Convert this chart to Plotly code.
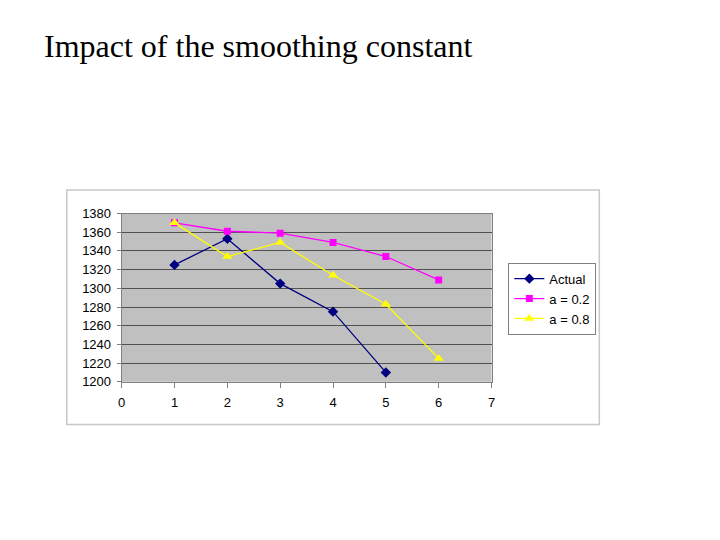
import plotly.graph_objects as go

periods_actual = [1, 2, 3, 4, 5]
actual = [1325, 1353, 1305, 1275, 1210]
periods_fc = [1, 2, 3, 4, 5, 6]
a02 = [1370, 1361, 1359, 1349, 1334, 1309]
a08 = [1370, 1334, 1349, 1314, 1283, 1225]
names = ["Actual", "a = 0.2", "a = 0.8"]

W, H = 720, 540
def px(x): return x / W
def py(y): return 1 - y / H

fig = go.Figure()
fig.add_trace(go.Scatter(x=periods_actual, y=actual, name=names[0], mode="lines+markers",
                         line=dict(color="#000080", width=1.3),
                         marker=dict(symbol="diamond", size=8, color="#000080")))
fig.add_trace(go.Scatter(x=periods_fc, y=a02, name=names[1], mode="lines+markers",
                         line=dict(color="#FF00FF", width=1.3),
                         marker=dict(symbol="square", size=7, color="#FF00FF")))
fig.add_trace(go.Scatter(x=periods_fc, y=a08, name=names[2], mode="lines+markers",
                         line=dict(color="#FFFF00", width=1.3),
                         marker=dict(symbol="triangle-up", size=9, color="#FFFF00")))

fig.update_layout(
    width=W, height=H,
    margin=dict(l=0, r=0, t=0, b=0),
    paper_bgcolor="white",
    plot_bgcolor="#C0C0C0",
    font=dict(family="Liberation Sans, Arial", size=13, color="black"),
    showlegend=True,
    legend=dict(x=px(510), y=py(263), xanchor="left", yanchor="top",
                bgcolor="white", bordercolor="#808080", borderwidth=1,
                font=dict(size=13), tracegroupgap=0, itemwidth=30),
    xaxis=dict(domain=[px(119), px(493)], range=[0, 7], dtick=1,
               showgrid=False, zeroline=False,
               showline=True, linecolor="#808080", linewidth=1, mirror=True,
               ticks="outside", ticklen=5, tickcolor="#808080",
               ticklabelstandoff=4),
    yaxis=dict(domain=[py(385.5), py(212.4)], range=[1200, 1380], dtick=20,
               showgrid=True, gridcolor="#505050", gridwidth=1, zeroline=False,
               showline=True, linecolor="#808080", linewidth=1, mirror=True,
               ticks="outside", ticklen=4, tickcolor="#808080",
               ticklabelstandoff=3),
    shapes=[dict(type="rect", xref="paper", yref="paper",
                 x0=px(63.5), x1=px(602), y0=py(429.5), y1=py(188.3),
                 line=dict(color="#C8C8C8", width=1.5), layer="below")],
    annotations=[dict(text="Impact of the smoothing constant", xref="paper", yref="paper",
                      x=px(38), y=py(40), xanchor="left", yanchor="middle",
                      showarrow=False,
                      font=dict(family="Liberation Serif, Times New Roman", size=32, color="black"))],
)

fig.write_html("out.html", config={"displayModeBar": False},
               post_script="document.body.style.margin='0';document.body.style.overflow='hidden';")
